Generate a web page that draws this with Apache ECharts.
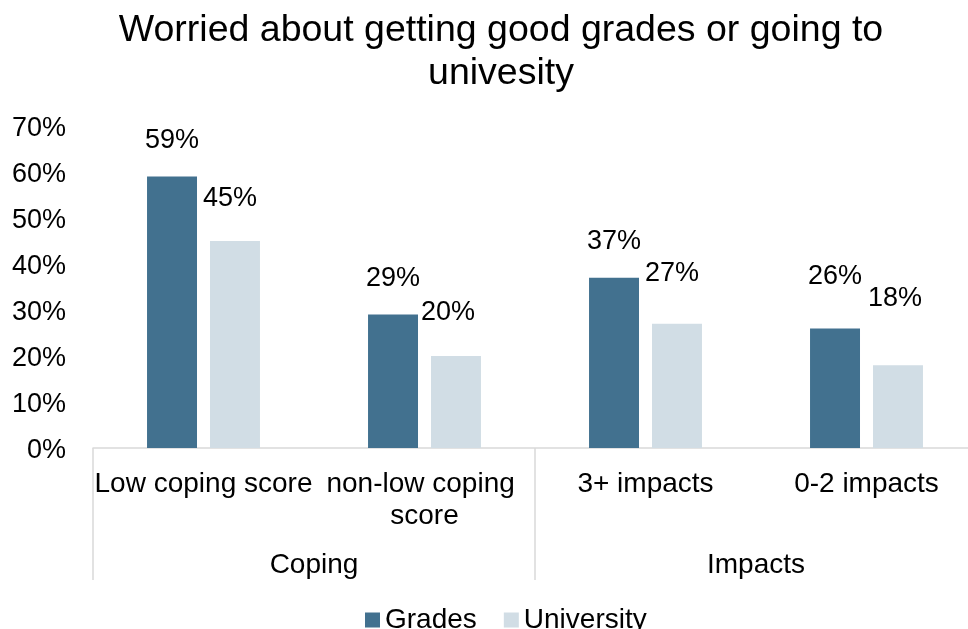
<!DOCTYPE html>
<html>
<head>
<meta charset="utf-8">
<script src="https://cdn.jsdelivr.net/npm/echarts@6/dist/echarts.min.js"></script>
<style>html,body{margin:0;padding:0;background:#fff}#c{width:968px;height:629px}</style>
</head>
<body>
<div id="c"></div>
<script>
const categories = ['Low coping score', 'non-low coping score', '3+ impacts', '0-2 impacts'];
const groups = ['Coping', 'Impacts'];
const grades = [59, 29, 37, 26];
const university = [45, 20, 27, 18];
const yTicks = [0, 10, 20, 30, 40, 50, 60, 70];

// label placement (manually positioned labels in the source chart)
const gradesLabelDist = [23, 23, 22.5, 38.5];
const gradesLabelDx = [0, 0, 0, 0];
const univLabelDist = [29, 30, 37, 53.5];
const univLabelDx = [-5, -8, -5, -3];

const FONT = '"Liberation Sans", Arial, sans-serif';

function withLabels(vals, dist, dx) {
  return vals.map((v, i) => ({ value: v, label: { distance: dist[i], offset: [dx[i], 0] } }));
}

const chart = echarts.init(document.getElementById('c'), null, { renderer: 'canvas' });
chart.setOption({
  animation: false,
  backgroundColor: '#ffffff',
  textStyle: { fontFamily: FONT },
  title: {
    text: 'Worried about getting good grades or going to\nunivesity',
    left: 496,
    top: 4,
    textAlign: 'center',
    textStyle: { fontFamily: FONT, fontSize: 37.5, fontWeight: 'normal', color: '#000', lineHeight: 43 }
  },
  legend: {
    data: ['Grades', 'University'],
    left: 360,
    top: 601,
    icon: 'rect',
    itemWidth: 15,
    itemHeight: 15,
    itemGap: 27,
    textStyle: { fontFamily: FONT, fontSize: 28, color: '#000', lineHeight: 28 }
  },
  grid: { left: 93, top: 126, width: 884, height: 322, containLabel: false, outerBoundsMode: 'none' },
  xAxis: [
    {
      type: 'category',
      data: categories,
      position: 'bottom',
      axisLine: { show: true, lineStyle: { color: '#D9D9D9', width: 1.5 } },
      axisTick: { show: false },
      axisLabel: {
        interval: 0,
        margin: 20,
        fontFamily: FONT,
        fontSize: 28,
        lineHeight: 32,
        color: '#000',
        width: 221,
        overflow: 'break'
      }
    },
    {
      type: 'category',
      data: groups,
      position: 'bottom',
      offset: 0,
      axisLine: { show: false },
      axisTick: { show: true, length: 132, lineStyle: { color: '#D9D9D9', width: 1.5 } },
      axisLabel: {
        interval: 0,
        margin: 101,
        fontFamily: FONT,
        fontSize: 28,
        lineHeight: 32,
        color: '#000'
      }
    }
  ],
  yAxis: {
    type: 'value',
    min: yTicks[0],
    max: yTicks[yTicks.length - 1],
    interval: 10,
    axisLine: { show: false },
    axisTick: { show: false },
    splitLine: { show: false },
    axisLabel: {
      formatter: '{a|{value}%}',
      margin: 27,
      rich: { a: { fontFamily: FONT, fontSize: 27, color: '#000', padding: [5, 0, 0, 0] } }
    }
  },
  series: [
    {
      name: 'Grades',
      type: 'bar',
      xAxisIndex: 0,
      data: withLabels(grades, gradesLabelDist, gradesLabelDx),
      itemStyle: { color: '#42718F' },
      barGap: '26%',
      barCategoryGap: '48.9%',
      label: { show: true, position: 'top', formatter: '{c}%', fontFamily: FONT, fontSize: 27, color: '#000' }
    },
    {
      name: 'University',
      type: 'bar',
      xAxisIndex: 0,
      data: withLabels(university, univLabelDist, univLabelDx),
      itemStyle: { color: '#D1DDE5' },
      barGap: '26%',
      barCategoryGap: '48.9%',
      label: { show: true, position: 'top', formatter: '{c}%', fontFamily: FONT, fontSize: 27, color: '#000' }
    }
  ]
});
</script>
</body>
</html>
